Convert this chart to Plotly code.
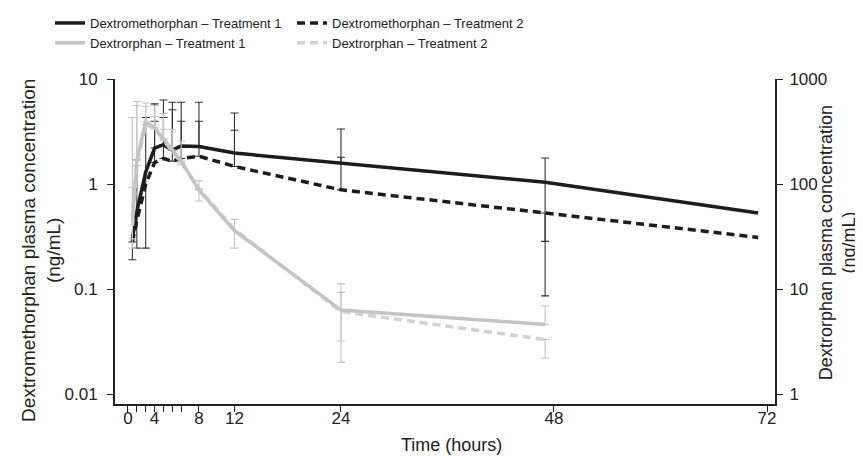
import plotly.graph_objects as go

# ---- data ----
times_dxm = [0.5, 1, 2, 3, 4, 5, 6, 8, 12, 24, 47, 71]
dxm_t1 = [0.30, 0.55, 1.30, 2.20, 2.37, 2.10, 2.30, 2.28, 1.97, 1.58, 1.04, 0.53]
dxm_t2 = [0.28, 0.45, 1.00, 1.60, 1.75, 1.65, 1.75, 1.84, 1.47, 0.88, 0.53, 0.31]

times_dxo = [0.5, 1, 2, 3, 4, 5, 6, 8, 12, 24, 47]
dxo_t1 = [45, 170, 390, 345, 270, 210, 165, 88, 36, 6.3, 4.6]
dxo_t2 = [40, 150, 370, 335, 262, 205, 160, 90, 37, 6.1, 3.3]

# error-bar bounds (None = no bar in that direction)
dxm_t1_upper = [None, 1.7, 4.3, 5.8, 6.3, 6.0, 6.0, 6.0, 4.75, 3.34, 1.77, None]
dxm_t1_lower = [None, 0.245, 0.245, None, None, None, None, None, None, None, 0.284, None]
dxm_t2_upper = [None, None, None, 3.96, 4.3, 5.1, 3.96, 3.96, 3.25, 1.8, None, None]
dxm_t2_lower = [0.19, None, None, None, None, None, None, None, None, None, 0.086, None]

dxo_t1_upper = [430, 560, 590, 560, 470, 330, 257, 107, 46, 11.2, 6.9]
dxo_t1_lower = [24.5, None, None, None, None, None, None, None, 24.5, 2.0, None]
dxo_t2_upper = [93, 610, 550, 440, 330, None, None, None, None, 9.3, None]
dxo_t2_lower = [30, None, None, None, None, None, 153, 69, None, 3.2, 2.2]

x_tickvals = [0, 1, 2, 3, 4, 5, 6, 8, 12, 24, 48, 72]
x_ticktext = ["0", "", "", "4", "", "", "", "8", "12", "24", "48", "72"]
left_ticks = [0.01, 0.1, 1, 10]
left_ticktext = ["0.01", "0.1", "1", "10"]
right_ticks = [1, 10, 100, 1000]
right_ticktext = ["1", "10", "100", "1000"]

BLACK = "#1c1c1c"
GRAY = "#c4c4c4"
GRAY2 = "#d2d2d2"
FONT = "Liberation Sans, Arial, sans-serif"


def err_trace(t, center, upper, lower, color, yaxis):
    xs, ys, plus, minus = [], [], [], []
    for ti, c, u, l in zip(t, center, upper, lower):
        if u is None and l is None:
            continue
        xs.append(ti)
        ys.append(c)
        plus.append(0 if u is None else u - c)
        minus.append(0 if l is None else c - l)
    return go.Scatter(
        x=xs, y=ys, mode="markers", yaxis=yaxis,
        marker=dict(size=1, color="rgba(0,0,0,0)"),
        error_y=dict(type="data", symmetric=False, array=plus, arrayminus=minus,
                     color=color, thickness=1.1, width=4),
        showlegend=False, hoverinfo="skip",
    )


fig = go.Figure()

# error bars
fig.add_trace(err_trace(times_dxo, dxo_t1, dxo_t1_upper, dxo_t1_lower, GRAY, "y2"))
fig.add_trace(err_trace(times_dxo, dxo_t2, dxo_t2_upper, dxo_t2_lower, GRAY, "y2"))
fig.add_trace(err_trace(times_dxm, dxm_t1, dxm_t1_upper, dxm_t1_lower, "#333333", "y"))
fig.add_trace(err_trace(times_dxm, dxm_t2, dxm_t2_upper, dxm_t2_lower, "#333333", "y"))

# lines
fig.add_trace(go.Scatter(x=times_dxm, y=dxm_t1, mode="lines", name="Dextromethorphan – Treatment 1",
                         line=dict(color=BLACK, width=3.5), legend="legend", legendrank=1))
fig.add_trace(go.Scatter(x=times_dxm, y=dxm_t2, mode="lines", name="Dextromethorphan – Treatment 2",
                         line=dict(color=BLACK, width=3.5, dash="8px,5px"), legend="legend2",
                         legendrank=1))
fig.add_trace(go.Scatter(x=times_dxo, y=dxo_t2, mode="lines", name="Dextrorphan – Treatment 2",
                         yaxis="y2", line=dict(color=GRAY2, width=3.5, dash="8px,5px"),
                         legend="legend2", legendrank=2))
fig.add_trace(go.Scatter(x=times_dxo, y=dxo_t1, mode="lines", name="Dextrorphan – Treatment 1",
                         yaxis="y2", line=dict(color=GRAY, width=3.5), legend="legend",
                         legendrank=2))

axis_common = dict(showgrid=False, zeroline=False, showline=True, linecolor="#222",
                   linewidth=2, ticks="outside", ticklen=6, tickwidth=1.3, tickcolor="#222",
                   tickfont=dict(family=FONT, size=17, color="#222"))

legend_common = dict(orientation="v", xref="container", yref="container", y=1.0,
                     xanchor="left", yanchor="top", itemwidth=30, tracegroupgap=0,
                     font=dict(family=FONT, size=13, color="#222"),
                     bgcolor="rgba(0,0,0,0)")

fig.update_layout(
    width=863, height=456,
    margin=dict(l=107, r=96, t=71, b=60, autoexpand=False),
    paper_bgcolor="white", plot_bgcolor="white",
    font=dict(family=FONT, size=17, color="#222"),
    xaxis=dict(range=[-1.46, 72.9], tickvals=x_tickvals, ticktext=x_ticktext,
               ticklabelstandoff=-8, **axis_common),
    yaxis=dict(type="log", range=[-2.095, 1], tickvals=left_ticks, ticktext=left_ticktext,
               ticklabelstandoff=6, **axis_common),
    yaxis2=dict(type="log", range=[-0.095, 3], tickvals=right_ticks, ticktext=right_ticktext,
                overlaying="y", side="right", ticklabelstandoff=3, **axis_common),
    legend=dict(x=42 / 863, **legend_common),
    legend2=dict(x=284 / 863, **legend_common),
    showlegend=True,
    annotations=[
        dict(text="Time (hours)", xref="paper", yref="paper", x=0.5, xshift=6, y=0, yshift=-29,
             xanchor="center", yanchor="top", showarrow=False, font=dict(size=18)),
        dict(text="Dextromethorphan plasma concentration<br>(ng/mL)", xref="paper", yref="paper",
             x=0.0, xshift=-74, y=0.471, textangle=-90, showarrow=False, font=dict(size=19),
             xanchor="center", yanchor="middle"),
        dict(text="Dextrorphan plasma concentration<br>(ng/mL)", xref="paper", yref="paper",
             x=1.0, xshift=62, y=0.495, textangle=-90, showarrow=False, font=dict(size=18),
             xanchor="center", yanchor="middle"),
    ],
)

fig.write_html("out.html")
